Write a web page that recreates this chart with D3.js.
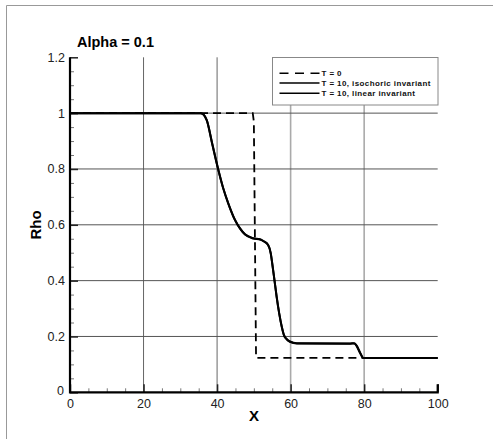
<!DOCTYPE html>
<!-- Rho profile for Alpha = 0.1, initial step vs. two T = 10 solutions -->
<html>
<head>
    <meta charset="utf-8">
    <script src="https://d3js.org/d3.v7.min.js"></script>
    <style>
        body { margin: 0; background: #fff; }
        text { font-family: Arial, "Liberation Sans", sans-serif; }
    </style>
</head>
<body>
<div id="chart"></div>
<script>

// initial state, T = 0 (dashed)
var xT0 = [0, 49.7, 50.0, 50.6, 100];
var rhoT0 = [1, 1, 0.97, 0.123, 0.123];

// T = 10, isochoric invariant
var xIso = [0, 35.5, 36.3, 37.2, 38.7, 40.3, 41.7, 43.05, 44.9, 46.2, 47.6, 49.85, 51.7, 52.6, 53.9, 54.6, 55.0, 55.6, 56.2, 56.9, 57.6, 58.2, 58.9, 59.8, 61.7, 76.2, 77.3, 77.9, 78.9, 79.8, 100];
var rhoIso = [1, 1, 0.995, 0.975, 0.89, 0.8, 0.73, 0.677, 0.617, 0.588, 0.566, 0.552, 0.548, 0.542, 0.528, 0.498, 0.462, 0.403, 0.343, 0.283, 0.235, 0.205, 0.191, 0.182, 0.176, 0.175, 0.176, 0.168, 0.142, 0.123, 0.123];

// T = 10, linear invariant (almost on top of the other one)
var xLin = [0, 35.5, 36.3, 37.2, 38.7, 40.3, 41.7, 43.05, 44.9, 46.2, 47.6, 49.85, 51.7, 52.6, 53.9, 54.6, 55.0, 55.6, 56.2, 56.9, 57.6, 58.2, 58.9, 59.8, 61.7, 76.2, 77.3, 77.9, 78.9, 79.8, 100];
var rhoLin = [1, 1, 0.995, 0.974, 0.888, 0.798, 0.729, 0.676, 0.616, 0.587, 0.565, 0.551, 0.547, 0.541, 0.527, 0.497, 0.461, 0.402, 0.342, 0.282, 0.234, 0.204, 0.19, 0.181, 0.175, 0.174, 0.175, 0.167, 0.141, 0.123, 0.123];

var xMajor = [0, 20, 40, 60, 80, 100];
var yMajor = [0, 0.2, 0.4, 0.6, 0.8, 1, 1.2];
var legendLabels = ["T = 0", "T = 10, isochoric invariant", "T = 10, linear invariant"];

var W = 493, H = 439;

var svg = d3.select("#chart").append("svg")
    .attr("width", W)
    .attr("height", H);

var x = d3.scaleLinear().domain([0, 100]).range([70, 437.7]);
var y = d3.scaleLinear().domain([0, 1.2]).range([392.3, 57.3]);

// outer frame (only left and top edges show)
svg.append("path")
    .attr("d", "M6.5,439 V5.5 H493")
    .attr("fill", "none")
    .attr("stroke", "#999")
    .attr("stroke-width", 1);

// grid lines (the ones at 60 and 80 come out lighter in the original)
svg.append("g").selectAll("line")
    .data(xMajor.slice(1, 5))
    .join("line")
    .attr("x1", function(d) { return x(d); })
    .attr("x2", function(d) { return x(d); })
    .attr("y1", y(1.2))
    .attr("y2", y(0))
    .attr("stroke", function(d) { return d >= 60 ? "#aaa" : "#666"; })
    .attr("stroke-width", function(d) { return d >= 60 ? 1.6 : 1; });

svg.append("g").selectAll("line")
    .data(yMajor.slice(1, 6))
    .join("line")
    .attr("x1", x(0))
    .attr("x2", x(100))
    .attr("y1", function(d) { return y(d); })
    .attr("y2", function(d) { return y(d); })
    .attr("stroke", "#555")
    .attr("stroke-width", 1);

// minor ticks, pointing inwards
var xMinor = d3.range(0, 101, 5).filter(function(d) { return d % 20 != 0; });
var yMinor = d3.range(0, 25).map(function(i) { return i * 0.05; }).filter(function(d, i) { return i % 4 != 0; });

svg.append("g")
    .attr("transform", "translate(0," + y(0) + ")")
    .call(d3.axisBottom(x).tickValues(xMinor).tickSize(-4).tickFormat(""))
    .call(function(g) { g.select(".domain").remove(); })
    .selectAll("line").attr("stroke", "#777");

svg.append("g")
    .attr("transform", "translate(" + x(0) + ",0)")
    .call(d3.axisLeft(y).tickValues(yMinor).tickSize(-4).tickFormat(""))
    .call(function(g) { g.select(".domain").remove(); })
    .selectAll("line").attr("stroke", "#777");

// major ticks + labels
var xAxis = svg.append("g")
    .attr("transform", "translate(0," + y(0) + ")")
    .call(d3.axisBottom(x).tickValues(xMajor).tickSize(-8).tickFormat(d3.format("d")));
xAxis.select(".domain").remove();
xAxis.selectAll("line").attr("stroke", "#222").attr("stroke-width", 1.5);
xAxis.selectAll("text")
    .attr("y", 16)
    .attr("dy", "0")
    .attr("fill", "#222")
    .style("font-size", "12.5px")
    .style("font-family", "Arial, 'Liberation Sans', sans-serif");

var yAxis = svg.append("g")
    .attr("transform", "translate(" + x(0) + ",0)")
    .call(d3.axisLeft(y).tickValues(yMajor).tickSize(-8).tickFormat(function(d) { return d3.format("")(+d.toFixed(1)); }));
yAxis.select(".domain").remove();
yAxis.selectAll("line").attr("stroke", "#222").attr("stroke-width", 1.5);
yAxis.selectAll("text")
    .attr("x", -5)
    .attr("fill", "#222")
    .style("font-size", "12.5px")
    .style("font-family", "Arial, 'Liberation Sans', sans-serif");
// the "0" sits a bit left and low, like the original
yAxis.selectAll("text").filter(function(d) { return d == 0; }).attr("x", -6).attr("dy", "0.2em");

// axis lines
svg.append("path")
    .attr("d", "M" + x(0) + "," + y(1.2) + " V" + y(0) + " H" + x(100) + " v-8")
    .attr("fill", "none")
    .attr("stroke", "#000")
    .attr("stroke-width", 2.2);

// curves
function series(xs, ys) {
    return xs.map(function(d, i) { return [d, ys[i]]; });
}

var smooth = d3.line()
    .x(function(d) { return x(d[0]); })
    .y(function(d) { return y(d[1]); })
    .curve(d3.curveMonotoneX);

var straight = d3.line()
    .x(function(d) { return x(d[0]); })
    .y(function(d) { return y(d[1]); });

svg.append("path")
    .datum(series(xT0, rhoT0))
    .attr("d", straight)
    .attr("fill", "none")
    .attr("stroke", "#000")
    .attr("stroke-width", 1.8)
    .attr("stroke-dasharray", "8,5");

svg.append("path")
    .datum(series(xIso, rhoIso))
    .attr("d", smooth)
    .attr("fill", "none")
    .attr("stroke", "#000")
    .attr("stroke-width", 2);

svg.append("path")
    .datum(series(xLin, rhoLin))
    .attr("d", smooth)
    .attr("fill", "none")
    .attr("stroke", "#000")
    .attr("stroke-width", 2);

// legend box, top right corner of the plot
var legend = svg.append("g");
legend.append("rect")
    .attr("x", 272.5)
    .attr("y", 57.5)
    .attr("width", 165.5)
    .attr("height", 47.5)
    .attr("fill", "#fff")
    .attr("stroke", "#888")
    .attr("stroke-width", 1);

var rowY = [73.3, 83, 93.3];
legendLabels.forEach(function(lab, i) {
    legend.append("line")
        .attr("x1", 279.5)
        .attr("x2", 319.5)
        .attr("y1", rowY[i])
        .attr("y2", rowY[i])
        .attr("stroke", "#000")
        .attr("stroke-width", 1.6)
        .attr("stroke-dasharray", i == 0 ? "9,6.5" : null);
    legend.append("text")
        .attr("x", 321.5)
        .attr("y", rowY[i])
        .attr("dy", "0.35em")
        .style("font-size", "8px")
        .style("font-weight", "bold")
        .style("letter-spacing", "0.4px")
        .attr("fill", "#111")
        .text(lab);
});

// titles
svg.append("text")
    .attr("x", 77)
    .attr("y", 46.7)
    .style("font-size", "14.5px")
    .style("font-weight", "bold")
    .text("Alpha = 0.1");

svg.append("text")
    .attr("x", 254)
    .attr("y", 420.7)
    .attr("text-anchor", "middle")
    .style("font-size", "15px")
    .style("font-weight", "bold")
    .text("X");

svg.append("text")
    .attr("transform", "translate(40.7,225) rotate(-90)")
    .attr("text-anchor", "middle")
    .style("font-size", "15px")
    .style("font-weight", "bold")
    .text("Rho");

</script>
</body>
</html>
